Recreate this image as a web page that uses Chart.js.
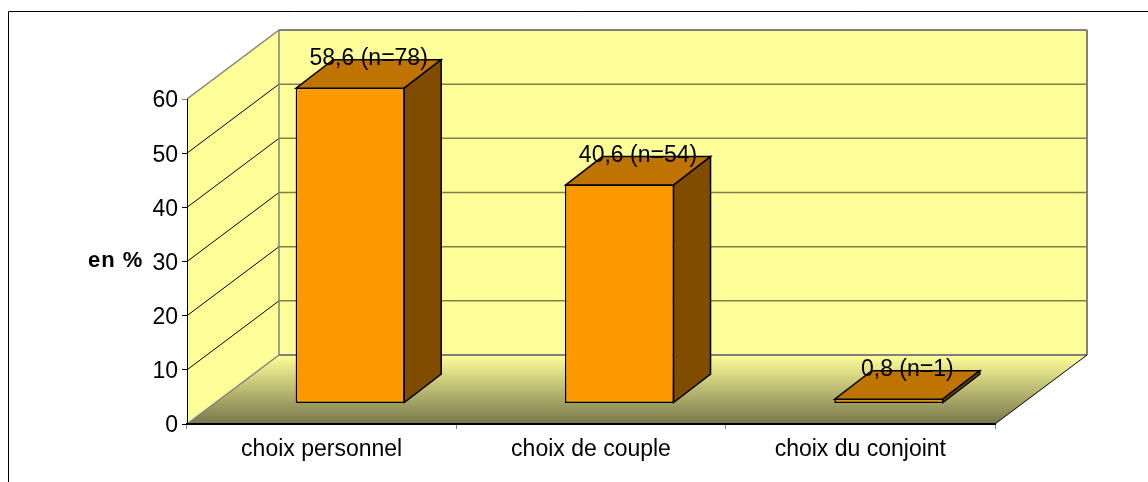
<!DOCTYPE html>
<html>
<head>
<meta charset="utf-8">
<style>
  html, body { margin: 0; padding: 0; background: #fff; }
  canvas { display: block; }
</style>
<script src="https://cdn.jsdelivr.net/npm/chart.js"></script>
</head>
<body>
<canvas id="chart" width="1148" height="482"></canvas>
<script>
const categories = ["choix personnel", "choix de couple", "choix du conjoint"];
const percents = [58.6, 40.6, 0.8];
const barLabels = ["58,6 (n=78)", "40,6 (n=54)", "0,8 (n=1)"];
const yTicks = [0, 10, 20, 30, 40, 50, 60];

const FONT = '"Liberation Sans", Arial, sans-serif';
const WALL = '#FFFF99';
const EDGE = '#808080';

// how far the back wall sits from the front plane
const WALL_DX = 92;
const WALL_DY = -69;
// bars stand partway into the floor
const BAR_DX = 28.5;
const BAR_DEPTH_X = 37;
const BAR_DEPTH_Y = -28.5;

function poly(ctx, pts, fill, stroke, lw) {
  ctx.beginPath();
  pts.forEach((p, i) => i ? ctx.lineTo(p[0], p[1]) : ctx.moveTo(p[0], p[1]));
  ctx.closePath();
  if (fill) { ctx.fillStyle = fill; ctx.fill(); }
  if (stroke) { ctx.strokeStyle = stroke; ctx.lineWidth = lw; ctx.stroke(); }
}

function line(ctx, x1, y1, x2, y2, color, lw) {
  ctx.beginPath();
  ctx.moveTo(x1, y1);
  ctx.lineTo(x2, y2);
  ctx.strokeStyle = color;
  ctx.lineWidth = lw;
  ctx.stroke();
}

const box3d = {
  id: 'box3d',
  beforeDraw(chart) {
    const ctx = chart.ctx;
    const a = chart.chartArea;
    const y = chart.scales.y;
    const bx = a.left + WALL_DX, tx = a.right + WALL_DX;
    const top = a.top + WALL_DY, bot = a.bottom + WALL_DY;

    ctx.save();
    ctx.fillStyle = '#fff';
    ctx.fillRect(0, 0, chart.width, chart.height);
    // outer frame only shows on the top and left
    line(ctx, 8.5, 11.5, chart.width, 11.5, '#000', 1);
    line(ctx, 8.5, 11.5, 8.5, chart.height, '#000', 1);

    // side wall, back wall, floor
    poly(ctx, [[a.left, a.top], [bx, top], [bx, bot], [a.left, a.bottom]], WALL);
    ctx.fillStyle = WALL;
    ctx.fillRect(bx, top, tx - bx, bot - top);
    const grad = ctx.createLinearGradient(0, bot, 0, a.bottom);
    grad.addColorStop(0, WALL);
    grad.addColorStop(1, '#77774B');
    poly(ctx, [[a.left, a.bottom], [bx, bot], [tx, bot], [a.right, a.bottom]], grad);

    yTicks.slice(1, -1).forEach(v => {
      const py = y.getPixelForValue(v);
      line(ctx, a.left, py, bx, py + WALL_DY, '#000', 1);
      line(ctx, bx, py + WALL_DY, tx, py + WALL_DY, '#80804D', 1.5);
    });

    line(ctx, a.left, a.top, bx, top, EDGE, 1.5);
    line(ctx, a.left, a.bottom, bx, bot, EDGE, 1.5);
    line(ctx, bx, top, tx, top, EDGE, 2);
    line(ctx, bx, top, bx, bot, EDGE, 1.5);
    line(ctx, bx, bot, tx, bot, EDGE, 2);
    line(ctx, tx, top, tx, bot, EDGE, 2);
    line(ctx, tx, bot, a.right, a.bottom, '#000', 1);
    ctx.restore();
  },
  beforeDatasetsDraw(chart) {
    chart.ctx.save();
    chart.ctx.translate(BAR_DX, 0);
  },
  afterDatasetsDraw(chart) {
    const ctx = chart.ctx;
    ctx.restore();
    ctx.save();
    chart.getDatasetMeta(0).data.forEach((bar, i) => {
      const l = bar.x - bar.width / 2 + BAR_DX + 0.5;
      const r = bar.x + bar.width / 2 + BAR_DX - 0.5;
      const t = bar.y + 0.5;
      const b = bar.base - 0.5;
      poly(ctx, [[l, t], [l + BAR_DEPTH_X, t + BAR_DEPTH_Y], [r + BAR_DEPTH_X, t + BAR_DEPTH_Y], [r, t]], '#BF7300', '#000', 1.5);
      poly(ctx, [[r, t], [r + BAR_DEPTH_X, t + BAR_DEPTH_Y], [r + BAR_DEPTH_X, b + BAR_DEPTH_Y], [r, b]], '#804D00', '#000', 1.5);
      ctx.fillStyle = '#000';
      ctx.font = '23px ' + FONT;
      ctx.textAlign = 'center';
      ctx.textBaseline = 'middle';
      ctx.fillText(barLabels[i], bar.x + BAR_DX + 18.5, bar.y - 29);
    });
    ctx.restore();
  },
  afterDraw(chart) {
    const ctx = chart.ctx;
    const y = chart.scales.y;
    ctx.save();
    ctx.fillStyle = '#000';
    ctx.textBaseline = 'middle';
    // value labels sit a bit lower than chart.js would put them
    ctx.font = '23px ' + FONT;
    ctx.textAlign = 'right';
    yTicks.forEach(v => ctx.fillText(String(v), 178, y.getPixelForValue(v) + 2));
    ctx.font = 'bold 22px ' + FONT;
    ctx.textAlign = 'left';
    ctx.letterSpacing = '1px';
    ctx.fillText('en %', 88, 261);
    ctx.restore();
  }
};

new Chart(document.getElementById('chart'), {
  type: 'bar',
  data: {
    labels: categories,
    datasets: [{
      data: percents,
      yAxisID: 'yBar',
      backgroundColor: '#FF9900',
      borderColor: '#000',
      borderWidth: 1.5,
      borderSkipped: false,
      barPercentage: 0.405,
      categoryPercentage: 1,
      clip: false
    }]
  },
  options: {
    responsive: false,
    animation: false,
    layout: { padding: { top: 99, right: 153, left: 0, bottom: 0 } },
    plugins: { legend: { display: false }, tooltip: { enabled: false } },
    scales: {
      x: {
        offset: true,
        afterFit(s) { s.height = 58; },
        grid: { drawOnChartArea: false, offset: true, tickLength: 5, tickColor: '#808080', tickWidth: 1 },
        border: { color: '#000', width: 2 },
        ticks: { color: '#000', font: { family: FONT, size: 23 }, padding: 7, maxRotation: 0 }
      },
      y: {
        min: 0,
        max: 60,
        afterFit(s) { s.width = 187; },
        afterBuildTicks(s) { s.ticks = yTicks.map(v => ({ value: v })); },
        grid: { drawOnChartArea: false, tickLength: 5, tickColor: c => c.tick && c.tick.value === 60 ? '#808080' : '#000' },
        border: { color: '#000', width: 1 },
        ticks: { display: false }
      },
      // bar plane sits lower than the axis plane, same chart area though
      yBar: {
        display: false,
        min: -3.9,
        max: 56.5
      }
    }
  },
  plugins: [box3d]
});
</script>
</body>
</html>
